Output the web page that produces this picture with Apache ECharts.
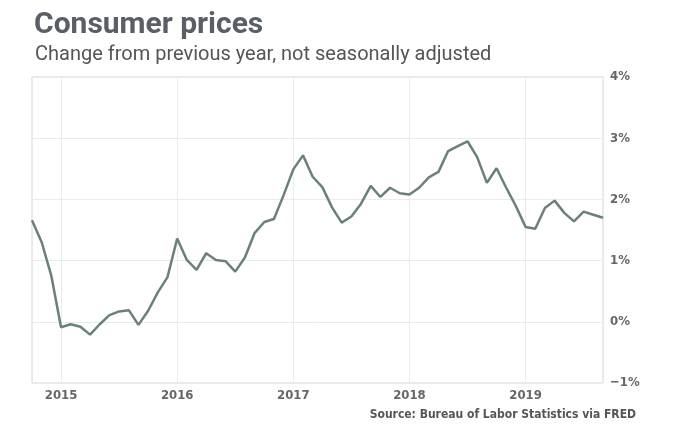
<!DOCTYPE html>
<html><head><meta charset="utf-8">
<script src="https://cdn.jsdelivr.net/npm/echarts@6/dist/echarts.min.js"></script>
<style>html,body{margin:0;padding:0;background:#fff}#c{width:680px;height:426px}</style>
</head><body><div id="c"></div>
<script>
const months = [];
const startYear = 2014, startMonth = 10, count = 60;
for (let i = 0; i < count; i++) {
  const m = (startMonth - 1 + i) % 12 + 1;
  const y = startYear + Math.floor((startMonth - 1 + i) / 12);
  months.push(y + '-' + String(m).padStart(2, '0'));
}
const cpiChange = [
  1.66, 1.30, 0.75,
  -0.09, -0.04, -0.08, -0.21, -0.04, 0.11, 0.17, 0.19, -0.05, 0.18, 0.48, 0.73,
  1.36, 1.01, 0.85, 1.12, 1.01, 0.99, 0.82, 1.05, 1.45, 1.63, 1.68, 2.07,
  2.49, 2.72, 2.37, 2.20, 1.87, 1.62, 1.72, 1.93, 2.22, 2.04, 2.19, 2.10,
  2.08, 2.19, 2.36, 2.45, 2.79, 2.87, 2.95, 2.69, 2.27, 2.51, 2.19, 1.89,
  1.55, 1.52, 1.86, 1.98, 1.78, 1.64, 1.80, 1.75, 1.70
];
const yTicks = [-1, 0, 1, 2, 3, 4];
const titleText = 'Consumer prices';
const subtitleText = 'Change from previous year, not seasonally adjusted';
const sourceText = 'Source: Bureau of Labor Statistics via FRED';

const isJan = (idx) => months[idx].endsWith('-01');
const chart = echarts.init(document.getElementById('c'));
chart.setOption({
  animation: false,
  backgroundColor: '#fff',
  title: [
    { text: titleText, left: 29, top: 5,
      textStyle: { fontFamily: 'Roboto', fontWeight: 'bold', fontSize: 30, color: '#595e67' } },
    { text: subtitleText, left: 30, top: 40,
      textStyle: { fontFamily: 'Roboto', fontWeight: 'normal', fontSize: 20, color: '#555' } },
    { text: sourceText, right: 39, bottom: 0,
      textStyle: { fontFamily: 'DejaVu Sans Condensed', fontWeight: 'bold', fontSize: 12, color: '#555' } }
  ],
  grid: { left: 32, right: 77, top: 77, bottom: 43, show: true, borderColor: '#d4d4d4', borderWidth: 1 },
  xAxis: {
    type: 'category', data: months, boundaryGap: false,
    axisLine: { show: false }, axisTick: { show: false },
    axisLabel: { interval: (i) => isJan(i), formatter: (v) => v.slice(0, 4),
      fontFamily: 'DejaVu Sans Condensed', fontWeight: 'bold', fontSize: 13, color: '#666', margin: 6 },
    splitLine: { show: true, interval: (i) => isJan(i), lineStyle: { color: '#ebebeb', width: 1 } }
  },
  yAxis: {
    type: 'value', position: 'right', min: yTicks[0], max: yTicks[yTicks.length - 1], interval: 1,
    axisLine: { show: false }, axisTick: { show: false },
    axisLabel: { formatter: (v) => (v < 0 ? '\u2212' + Math.abs(v) : v) + '%',
      fontFamily: 'DejaVu Sans Condensed', fontWeight: 'bold', fontSize: 13, color: '#666', margin: 7 },
    splitLine: { lineStyle: { color: '#ebebeb', width: 1 } }
  },
  series: [{
    type: 'line', data: cpiChange, showSymbol: false, symbol: 'none',
    lineStyle: { color: '#6b807c', width: 2.5 }
  }]
});
</script></body></html>
